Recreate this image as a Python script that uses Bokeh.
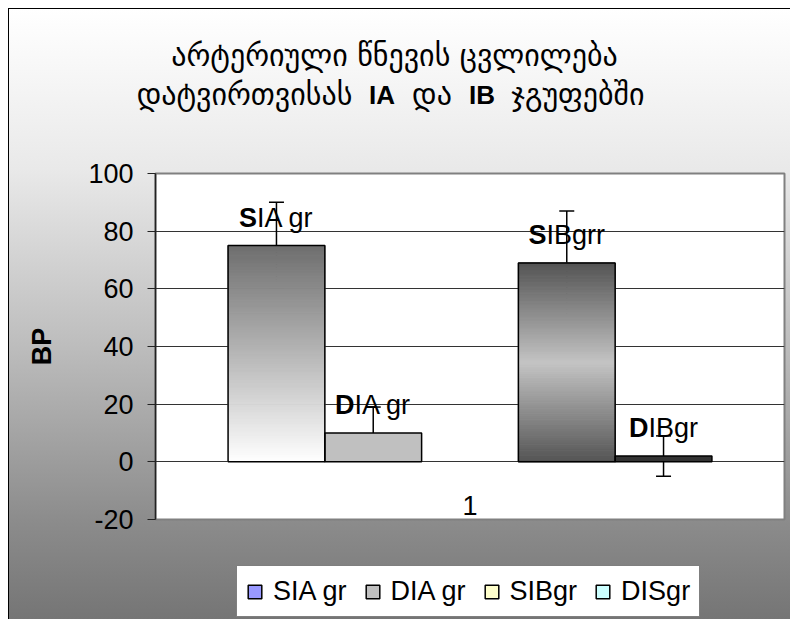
import numpy as np
from bokeh.plotting import figure
from bokeh.layouts import column
from bokeh.models import (ColumnDataSource, Range1d, FixedTicker, Label, Legend,
                          LegendItem, Whisker, TeeHead)
from bokeh.core.properties import value
from bokeh.embed import file_html
from bokeh.resources import INLINE

# ---- data -------------------------------------------------------------
series = ["SIA gr", "DIA gr", "SIBgr", "DISgr"]
bp_values = [75, 10, 69, 2]
bp_errors = [15, 9, 18, 7]
label_bold = ["S", "D", "S", "D"]
label_rest = ["IA gr", "IA gr", "IBgrr", "IBgr"]
legend_colors = ["#9999FF", "#C0C0C0", "#FFFFCC", "#CCFFFF"]
category_label = "1"
y_ticks = [-20, 0, 20, 40, 60, 80, 100]
title_line1 = "არტერიული წნევის ცვლილება"
title_line2 = ["დატვირთვისას", "IA", "და", "IB", "ჯგუფებში"]

# ---- layout / style ---------------------------------------------------
W, H = 790, 619
TITLE_H = 160            # title strip
LEGEND_H = 74            # legend strip
MAIN_H = H - TITLE_H - LEGEND_H
FRAME_TOP, FRAME_BOTTOM = 173, 519
LEFT, RIGHT = 155, 6
LATIN = "Liberation Sans"
GEORG = "DejaVu Sans"
FS = 27
TEXT_LIFT = 10           # compensates the text glyph's baseline placement


def bare(fig):
    fig.axis.visible = False
    fig.grid.visible = False
    fig.outline_line_color = None
    fig.background_fill_color = None
    fig.border_fill_color = None
    fig.frame_align = False
    return fig


# ---- title strip ------------------------------------------------------
top = bare(figure(width=W, height=TITLE_H, output_backend="svg", toolbar_location=None,
                  x_range=Range1d(0, W), y_range=Range1d(TITLE_H, 0),
                  min_border=0))
GFS, BFS = "30px", "26px"
TITLE_CX = 394
top.add_layout(Label(x=TITLE_CX, y=55, text=title_line1, text_align="center",
                     text_baseline="middle", text_font=GEORG, text_font_size=GFS,
                     text_color="black"))

# second line: Georgian words in the regular face, group names in bold Latin,
# laid out left to right and centred as a whole
piece_w = [215, 26, 40, 26, 132]           # approximate rendered widths, px
piece_font = [GEORG, LATIN, GEORG, LATIN, GEORG]
piece_style = ["normal", "bold", "normal", "bold", "normal"]
piece_size = [GFS, BFS, GFS, BFS, GFS]
GAP = 17
x = TITLE_CX - (sum(piece_w) + GAP * (len(piece_w) - 1)) / 2 - 4
for txt, w_px, fnt, sty, fsz in zip(title_line2, piece_w, piece_font, piece_style, piece_size):
    top.add_layout(Label(x=x + w_px / 2, y=94, text=txt, text_align="center",
                         text_baseline="middle", text_font=fnt, text_font_size=fsz,
                         text_font_style=sty, text_color="black"))
    x += w_px + GAP

# ---- main chart -------------------------------------------------------
p = figure(width=W, height=MAIN_H, output_backend="svg", toolbar_location=None,
           x_range=Range1d(0, 1), y_range=Range1d(y_ticks[0], y_ticks[-1]),
           min_border_left=LEFT, min_border_right=RIGHT,
           min_border_top=FRAME_TOP - TITLE_H,
           min_border_bottom=TITLE_H + MAIN_H - FRAME_BOTTOM)
p.border_fill_color = None
p.background_fill_color = "white"
p.outline_line_color = "#808080"
p.outline_line_width = 2

# bars: 5 slots per category, the middle slot left empty
n_slots = 5
bar_w = 1.0 / (n_slots + 1.5)
slots = [i if i < 2 else i + 1 for i in range(len(series))]
centers = [0.5 + (s - (n_slots - 1) / 2) * bar_w for s in slots]


def hex_to_rgb(h):
    h = h.lstrip("#")
    return np.array([int(h[i:i + 2], 16) for i in (0, 2, 4)], dtype=float)


def mix(c0, c1, t):
    c = hex_to_rgb(c0) * (1 - t) + hex_to_rgb(c1) * t
    return "#%02x%02x%02x" % tuple(int(round(v)) for v in c)


def gradient_bar(xc, v, color_at, n=90):
    lefts, rights, bottoms, tops, colors = [], [], [], [], []
    for j in range(n):
        t = (j + 0.5) / n
        lefts.append(xc - bar_w / 2)
        rights.append(xc + bar_w / 2)
        bottoms.append(v * j / n)
        tops.append(v * (j + 1) / n)
        colors.append(color_at(t))
    p.quad(left=lefts, right=rights, bottom=bottoms, top=tops,
           fill_color=colors, line_color=colors, line_width=1)


gradient_bar(centers[0], bp_values[0], lambda t: mix("#ffffff", "#6e6e6e", t))
p.quad(left=[centers[1] - bar_w / 2], right=[centers[1] + bar_w / 2],
       bottom=[0], top=[bp_values[1]], fill_color="#c0c0c0", line_color=None)
gradient_bar(centers[2], bp_values[2],
             lambda t: mix("#c4c4c4", "#545454", abs(2 * t - 1)))
p.quad(left=[centers[3] - bar_w / 2], right=[centers[3] + bar_w / 2],
       bottom=[0], top=[bp_values[3]], fill_color="#333333", line_color=None)

# bar outlines
p.quad(left=[c - bar_w / 2 for c in centers], right=[c + bar_w / 2 for c in centers],
       bottom=[0] * len(centers), top=bp_values,
       fill_color=None, line_color="black", line_width=1.5)

# error bars
err_src = ColumnDataSource(dict(
    x=centers,
    upper=[v + e for v, e in zip(bp_values, bp_errors)],
    lower=[v - e for v, e in zip(bp_values, bp_errors)],
))
p.add_layout(Whisker(source=err_src, base="x", upper="upper", lower="lower",
                     dimension="height", line_color="black", line_width=1.5,
                     upper_head=TeeHead(size=15, line_color="black", line_width=1.5),
                     lower_head=TeeHead(size=15, line_color="black", line_width=1.5)))

# bar labels: bold first letter followed by regular text, centred on the bar
ARIAL = {" ": 278, "A": 667, "B": 667, "I": 278, "g": 556, "r": 333, "S": 667, "D": 722}
ARIAL_B = {"S": 667, "D": 722}
split_offsets = []
for b, r in zip(label_bold, label_rest):
    wb = ARIAL_B[b] * FS / 1000
    wr = sum(ARIAL[ch] for ch in r) * FS / 1000
    split_offsets.append(-(wb + wr) / 2 + wb)
lab_src = ColumnDataSource(dict(x=centers, y=bp_values, b=label_bold, r=label_rest,
                                dx=split_offsets))
p.text(x="x", y="y", text="b", source=lab_src, x_offset="dx", y_offset=-18 - TEXT_LIFT,
       text_align="right", text_baseline="alphabetic",
       text_font=value(LATIN), text_font_size=value(f"{FS}px"),
       text_font_style="bold", text_color="black")
p.text(x="x", y="y", text="r", source=lab_src, x_offset="dx", y_offset=-18 - TEXT_LIFT,
       text_align="left", text_baseline="alphabetic",
       text_font=value(LATIN), text_font_size=value(f"{FS}px"),
       text_color="black")

# category label, sitting just above the bottom of the plot area
p.text(x=[0.5], y=[y_ticks[0]], text=[category_label], y_offset=-4 - TEXT_LIFT,
       text_align="center", text_baseline="alphabetic",
       text_font=value(LATIN), text_font_size=value(f"{FS}px"), text_color="black")

# grid
p.xgrid.visible = False
p.ygrid.ticker = FixedTicker(ticks=[t for t in y_ticks if y_ticks[0] < t < y_ticks[-1]])
p.ygrid.grid_line_color = "#333333"
p.ygrid.grid_line_width = 1

# axes
p.xaxis.visible = False
p.yaxis.ticker = FixedTicker(ticks=y_ticks)
p.yaxis.major_label_overrides = {t: str(t) for t in y_ticks}
p.yaxis.minor_tick_line_color = None
p.yaxis.major_tick_in = 0
p.yaxis.major_tick_out = 8
p.yaxis.major_tick_line_color = "#222222"
p.yaxis.axis_line_color = "#222222"
p.yaxis.axis_line_width = 1.5
p.yaxis.major_label_standoff = 14
p.yaxis.major_label_text_font = LATIN
p.yaxis.major_label_text_font_size = f"{FS}px"
p.yaxis.major_label_text_color = "black"
p.yaxis.axis_label = "BP"
p.yaxis.axis_label_text_font = LATIN
p.yaxis.axis_label_text_font_size = f"{FS}px"
p.yaxis.axis_label_text_font_style = "bold"
p.yaxis.axis_label_text_color = "black"
p.yaxis.axis_label_standoff = 28

# ---- legend strip -----------------------------------------------------
leg = bare(figure(width=W, height=LEGEND_H, output_backend="svg", toolbar_location=None,
                  x_range=Range1d(0, 1), y_range=Range1d(0, 1), min_border=0))
items = []
for name, col in zip(series, legend_colors):
    # one undrawn (NaN) quad per series, only to carry the legend swatch
    r = leg.quad(left=[np.nan], right=[np.nan], bottom=[np.nan], top=[np.nan],
                 fill_color=col, line_color="black", line_width=1.5)
    items.append(LegendItem(label=name, renderers=[r]))
legend = Legend(items=items, orientation="horizontal", location=(236, 2),
                glyph_width=17, glyph_height=17, label_standoff=10, spacing=17,
                padding=9, margin=0, label_height=32, label_text_font=LATIN,
                label_text_font_size=f"{FS}px", label_text_color="black",
                border_line_color="black", border_line_width=1.5,
                background_fill_color="white", background_fill_alpha=1)
leg.add_layout(legend)

# ---- whole chart: black frame line and a white-to-grey vertical gradient
layout = column(top, p, leg, spacing=0)
layout.styles = {
    "background": (
        "linear-gradient(#000,#000) 8px 8px / 1px 611px no-repeat, "
        "linear-gradient(#000,#000) 8px 8px / 782px 1px no-repeat, "
        "linear-gradient(to bottom, #ffffff 0px, #f3f3f3 90px, #e9e9e9 160px, "
        "#bdbdbd 336px, #8c8c8c 511px, #757575 610px) 9px 9px / 781px 610px no-repeat, "
        "#ffffff"
    )
}

open("out.html", "w").write(file_html(layout, INLINE))
